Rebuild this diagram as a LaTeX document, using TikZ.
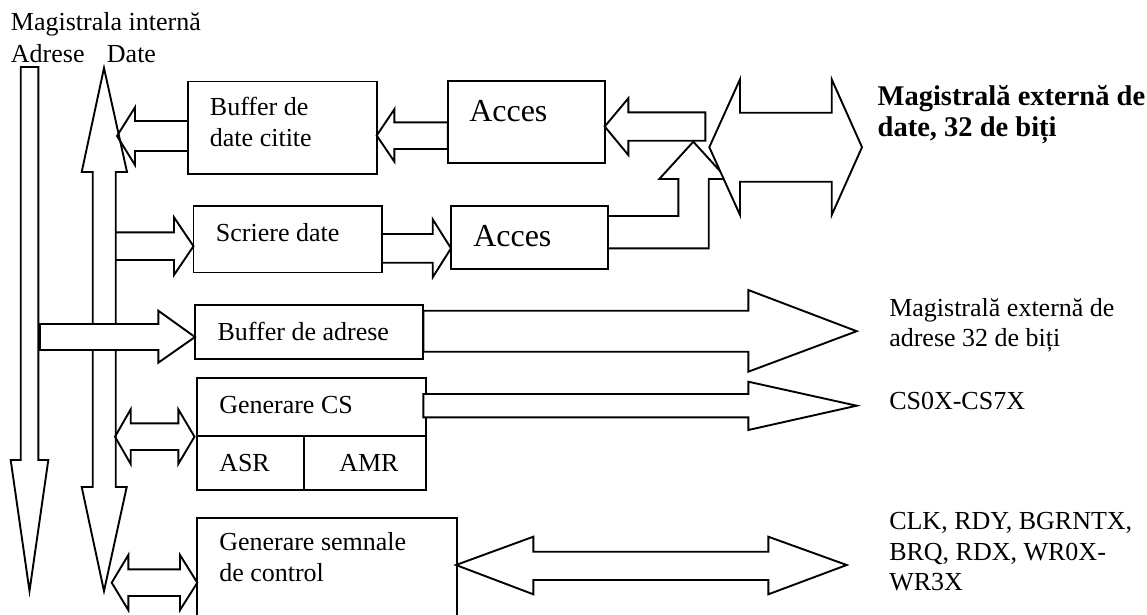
\documentclass[tikz,border=0pt]{standalone}
\usepackage{fontspec}
\setmainfont{Liberation Serif}
\begin{document}
\begin{tikzpicture}[x=1pt,y=-1pt,line width=1.9pt,line join=miter,
  blk/.style={draw,rectangle,inner sep=0pt,outer sep=0pt,anchor=north west},
  lbl/.style={inner sep=0pt,anchor=base west,font=\fontsize{26}{30}\selectfont},
  biglbl/.style={inner sep=0pt,anchor=base west,font=\fontsize{32}{36}\selectfont},
  boldlbl/.style={inner sep=0pt,anchor=base west,font=\fontsize{28.5}{32}\selectfont\bfseries},
  hollow/.style={draw},
  solid arrow/.style={draw,fill=white}]
\useasboundingbox (0,0) rectangle (1147,614);

% ---- functional blocks ----
\node[blk,minimum width=188.7pt,minimum height=92.8pt] (buf) at (188,81.5) {};
\node[blk,minimum width=157pt,minimum height=82.3pt] (acc1) at (447.7,81) {};
\node[blk,minimum width=188.8pt,minimum height=66.5pt] (scr) at (193.5,206) {};
\node[blk,minimum width=157.3pt,minimum height=63pt] (acc2) at (451,206) {};
\node[blk,minimum width=228.3pt,minimum height=54.3pt] (badr) at (195,305) {};
\node[blk,minimum width=228.4pt,minimum height=57.7pt] (gcs) at (197.3,378.3) {};
\node[blk,minimum width=106.7pt,minimum height=54pt] (asr) at (197.3,436) {};
\node[blk,minimum width=121.7pt,minimum height=54pt] (amr) at (304,436) {};
% control block runs past the lower edge
\draw (197.3,630) coordinate (gsc-bl) -- (197.3,518) coordinate (gsc-tl)
      -- (457.3,518) coordinate (gsc-tr) -- (457.3,630) coordinate (gsc-br);

% ---- internal address bus (down) ----
\draw[hollow] (20.7,67) -- (38.3,67) -- (38.3,460) -- (48.3,460) -- (29.5,591)
  -- (10.7,460) -- (20.7,460) -- cycle;
% ---- internal data bus (both ways) ----
\draw[hollow] (104,68) -- (127,172) -- (115.7,172) -- (115.7,487) -- (126.7,487)
  -- (104,591) -- (81.7,487) -- (92.7,487) -- (92.7,172) -- (81.7,172) -- cycle;

% read buffer -> data bus
\draw[hollow] (117,136) -- (135,107.3) -- (135,121) -- (buf.west |- 0,121)
  -- (buf.west |- 0,151) -- (135,151) -- (135,165) -- cycle;
% access -> read buffer
\draw[hollow] (buf.east |- 0,135.5) -- (394.3,109.3) -- (394.3,122.3) -- (acc1.west |- 0,122.3)
  -- (acc1.west |- 0,149) -- (394.3,149) -- (394.3,161.5) -- cycle;
% external data -> access
\draw[hollow] (acc1.east |- 0,126.5) -- (628.3,98.3) -- (628.3,112.3) -- (705.3,112.3)
  -- (705.3,140.7) -- (628.3,140.7) -- (628.3,155) -- cycle;
% data bus -> write data
\draw[hollow] (115.7,232.3) -- (174,232.3) -- (174,217.3) -- (scr.west |- 0,246.2)
  -- (174,275) -- (174,260) -- (115.7,260);
% write data -> access
\draw[hollow] (scr.east |- 0,234) -- (432.7,234) -- (432.7,219.3) -- (acc2.west |- 0,248.3)
  -- (432.7,277.3) -- (432.7,262.7) -- (scr.east |- 0,262.7);
% access -> external data (bent)
\draw[hollow] (acc2.east |- 0,216) -- (678.3,216) -- (678.3,179) -- (659.3,179) -- (693.3,141.7)
  -- (727.3,179) -- (708.7,179) -- (708.7,248.3) -- (acc2.east |- 0,248.3);
% external data bus
\draw[solid arrow] (709.3,147.2) -- (740,79.3) -- (740,112.7) -- (831.7,112.7) -- (831.7,79.3)
  -- (862,147.2) -- (831.7,215) -- (831.7,181.7) -- (740,181.7) -- (740,215) -- cycle;

% address bus -> address buffer
\draw[solid arrow] (40,324) -- (158.3,324) -- (158.3,310.7) -- (badr.west |- 0,337)
  -- (158.3,362.7) -- (158.3,350) -- (40,350) -- cycle;
% address buffer -> external address bus
\draw[solid arrow] (badr.east |- 0,310.7) -- (748.3,310.7) -- (748.3,290) -- (856.7,331.2)
  -- (748.3,371.7) -- (748.3,351.7) -- (badr.east |- 0,351.7) -- cycle;
% data bus <-> CS generator
\draw[hollow] (115,436.7) -- (130.7,409.3) -- (130.7,423.3) -- (178.3,423.3) -- (178.3,409.3)
  -- (194.5,436.7) -- (178.3,464) -- (178.3,450) -- (130.7,450) -- (130.7,464) -- cycle;
% CS generator -> chip selects
\draw[solid arrow] (423.3,394) -- (748.3,394) -- (748.3,381.7) -- (856.7,405.7)
  -- (748.3,430) -- (748.3,417.3) -- (423.3,417.3) -- cycle;
% data bus <-> control generator
\draw[hollow] (111.7,582.7) -- (128.3,555) -- (128.3,569.3) -- (180,569.3) -- (180,555)
  -- (197.3,582.7) -- (180,610) -- (180,596) -- (128.3,596) -- (128.3,610) -- cycle;
% control generator <-> control lines
\draw[hollow] (456,565) -- (533.3,536.7) -- (533.3,551.7) -- (768.3,551.7) -- (768.3,536.7)
  -- (846.7,565) -- (768.3,594.3) -- (768.3,580) -- (533.3,580) -- (533.3,594.3) -- cycle;

% ---- texts ----
\node[lbl] (t-int) at (10,30) {Magistrala internă};
\node[lbl] (t-adr) at (10,62) {Adrese};
\node[lbl] (t-dat) at (106,62) {Date};
\node[lbl] (t-buf1) at (209,115.5) {Buffer de};
\node[lbl] (t-buf2) at (209,146.5) {date citite};
\node[biglbl] (t-acc1) at (468.3,121.7) {Acces};
\node[lbl] (t-scr) at (215,241.7) {Scriere date};
\node[biglbl] (t-acc2) at (472.3,246.7) {Acces};
\node[lbl] (t-badr) at (216.7,340.5) {Buffer de adrese};
\node[lbl] (t-gcs) at (218.3,413.3) {Generare CS};
\node[lbl] (t-asr) at (218.3,471.7) {ASR};
\node[lbl] (t-amr) at (338.3,471.7) {AMR};
\node[lbl] (t-gsc1) at (218.3,550.5) {Generare semnale};
\node[lbl] (t-gsc2) at (218.3,581.7) {de control};
\node[boldlbl] (t-ext1) at (876.7,105) {Magistrală externă de};
\node[boldlbl] (t-ext2) at (876.7,136) {date, 32 de biți};
\node[lbl] (t-ea1) at (888.3,316) {Magistrală externă de};
\node[lbl] (t-ea2) at (888.3,346) {adrese 32 de biți};
\node[lbl] (t-cs) at (888.3,409) {CS0X-CS7X};
\node[lbl] (t-c1) at (888.3,529.3) {CLK, RDY, BGRNTX,};
\node[lbl] (t-c2) at (888.3,560) {BRQ, RDX, WR0X-};
\node[lbl] (t-c3) at (888.3,590.5) {WR3X};
\end{tikzpicture}
\end{document}
